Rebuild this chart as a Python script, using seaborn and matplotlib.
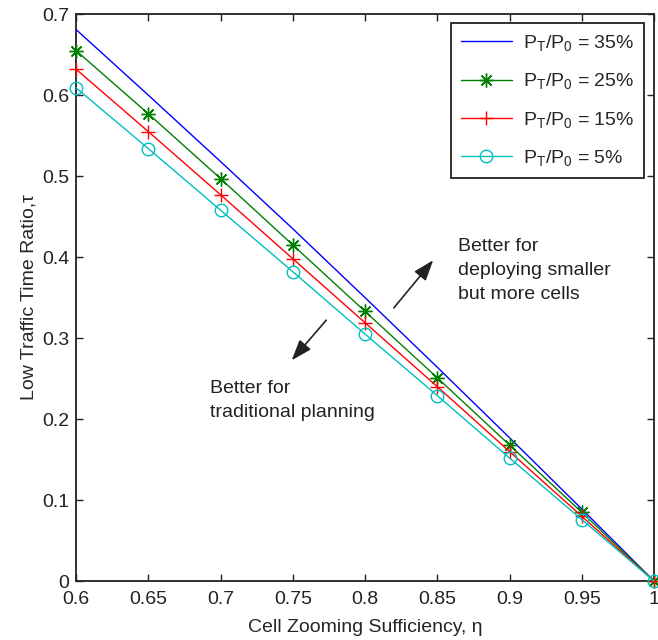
import matplotlib
matplotlib.use("Agg")
import matplotlib.pyplot as plt
import pandas as pd
import seaborn as sns

eta = [0.6, 0.65, 0.7, 0.75, 0.8, 0.85, 0.9, 0.95, 1.0]
tau_35 = [0.681, 0.600, 0.518, 0.435, 0.350, 0.264, 0.177, 0.089, 0.0]
tau_25 = [0.655, 0.577, 0.497, 0.415, 0.333, 0.251, 0.168, 0.085, 0.0]
tau_15 = [0.632, 0.555, 0.477, 0.398, 0.319, 0.240, 0.160, 0.080, 0.0]
tau_5 = [0.609, 0.534, 0.458, 0.382, 0.305, 0.229, 0.152, 0.076, 0.0]

labels = [r"$\mathregular{P_T/P_0}$ = 35%", r"$\mathregular{P_T/P_0}$ = 25%",
          r"$\mathregular{P_T/P_0}$ = 15%", r"$\mathregular{P_T/P_0}$ = 5%"]
colors = ["#0000ff", "#008000", "#ff0000", "#00bfbf"]
markers = [None, (8, 2, 0), "+", "o"]

sns.set_style("ticks")
plt.rcParams["font.family"] = ["Liberation Sans", "DejaVu Sans"]
plt.rcParams["mathtext.fontset"] = "custom"
plt.rcParams["mathtext.rm"] = "Liberation Sans"
plt.rcParams["mathtext.it"] = "Liberation Sans"

fig = plt.figure(figsize=(6.58, 6.4), dpi=100)
ax = fig.add_axes([0.1155, 0.092, 0.8785, 0.886])

for tau, lab, c, m in zip([tau_35, tau_25, tau_15, tau_5], labels, colors, markers):
    df = pd.DataFrame({"eta": eta, "tau": tau})
    sns.lineplot(data=df, x="eta", y="tau", ax=ax, color=c, label=lab, lw=1,
                 marker=m, markersize=10 if m != "o" else 9, markeredgewidth=1,
                 markerfacecolor="none" if m == "o" else c, markeredgecolor=c,
                 clip_on=False, zorder=3)

ax.set_xlim(0.6, 1.0)
ax.set_ylim(0, 0.7)
ax.set_xticks(eta)
ax.set_xticklabels(["0.6", "0.65", "0.7", "0.75", "0.8", "0.85", "0.9", "0.95", "1"])
ax.set_yticks([0, 0.1, 0.2, 0.3, 0.4, 0.5, 0.6, 0.7])
ax.set_yticklabels(["0", "0.1", "0.2", "0.3", "0.4", "0.5", "0.6", "0.7"])
ax.tick_params(direction="in", top=True, right=True, labelsize=14, length=5, width=1, colors="#222222")
ax.tick_params(axis="x", pad=7)
ax.tick_params(axis="y", pad=5)
for s in ax.spines.values():
    s.set_visible(True)
    s.set_linewidth(1.3)
    s.set_color("#222222")

ax.set_xlabel("Cell Zooming Sufficiency, η", fontsize=14, labelpad=8)
ax.set_ylabel("Low Traffic Time Ratio,τ", fontsize=14, labelpad=3)

ax.text(0.864, 0.424, "Better for\ndeploying smaller\nbut more cells", fontsize=14,
        va="top", ha="left", linespacing=1.55, color="#222222")
ax.text(0.6927, 0.2487, "Better for\ntraditional planning", fontsize=14,
        va="top", ha="left", linespacing=1.55, color="#222222")
ax.annotate("", xy=(0.8484, 0.3988), xytext=(0.8187, 0.3346),
            arrowprops=dict(arrowstyle="-|>,head_length=0.7,head_width=0.25",
                            color="#222222", lw=1.2, mutation_scale=18))
ax.annotate("", xy=(0.748, 0.270), xytext=(0.7744, 0.3247),
            arrowprops=dict(arrowstyle="-|>,head_length=0.7,head_width=0.25",
                            color="#222222", lw=1.2, mutation_scale=18))

leg = ax.legend(loc="upper right", fontsize=14, frameon=True, fancybox=False,
                edgecolor="#222222", handlelength=2.6, borderpad=0.5, handletextpad=0.6,
                labelspacing=0.95, borderaxespad=0, bbox_to_anchor=(0.983, 0.984))
leg.get_frame().set_linewidth(1.3)
leg.get_frame().set_alpha(1)

fig.savefig("out.png", dpi=100)
